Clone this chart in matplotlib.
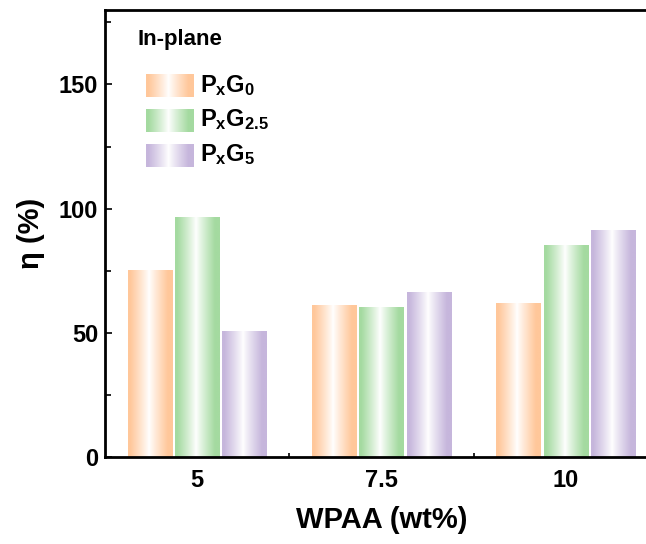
import numpy as np
import matplotlib
matplotlib.use("Agg")
import matplotlib.pyplot as plt
from matplotlib.colors import to_rgb
from matplotlib.ticker import MultipleLocator, FixedLocator

plt.rcParams['font.family'] = ['Liberation Sans', 'DejaVu Sans']
plt.rcParams['font.weight'] = 'bold'
plt.rcParams['mathtext.fontset'] = 'custom'
plt.rcParams['mathtext.bf'] = 'Liberation Sans:bold'
plt.rcParams['mathtext.rm'] = 'Liberation Sans:bold'

# data
categories = ['5', '7.5', '10']
labels = [r'$\mathbf{P_xG_0}$', r'$\mathbf{P_xG_{2.5}}$', r'$\mathbf{P_xG_5}$']
g0 = [75, 61, 62]
g25 = [96.5, 60.3, 85.3]
g5 = [50.4, 66.2, 91.4]
colors = ['#FFC79A', '#A4DAA0', '#C6B6DC']


def gradient(color, n=200):
    # coloured edges, white in the middle
    t = np.linspace(0, 1, n)
    w = np.clip(np.abs(t - 0.47) / 0.42, 0, 1) ** 0.9
    c = np.array(to_rgb(color))
    row = 1 - w[:, None] * (1 - c[None, :])
    return row[None, :, :]


fig = plt.figure(figsize=(6.46, 5.44), dpi=100)
fig.patch.set_edgecolor('none')
ax = fig.add_axes([0.1625, 0.16, 0.856, 0.8217])

x = np.arange(len(categories))
width = 0.24
step = 0.257
series = [g0, g25, g5]
for i, vals in enumerate(series):
    bars = ax.bar(x + (i - 1) * step, vals, width, color='none', edgecolor='none')
    img = gradient(colors[i])
    for b in bars:
        ax.imshow(img, extent=[b.get_x(), b.get_x() + b.get_width(), 0, b.get_height()],
                  aspect='auto', zorder=1, interpolation='bilinear')

ax.set_xticks(x)
ax.set_xticklabels(categories)
ax.xaxis.set_minor_locator(FixedLocator([0.5, 1.5]))
ax.yaxis.set_major_locator(MultipleLocator(50))
ax.yaxis.set_minor_locator(MultipleLocator(25))
ax.tick_params(axis='both', which='both', direction='in', labelsize=17, width=1.2,
               right=False, top=False)
ax.tick_params(axis='x', which='major', length=0, pad=9)
ax.tick_params(axis='x', which='minor', length=3)
ax.tick_params(axis='y', which='major', length=5, pad=5)
ax.tick_params(axis='y', which='minor', length=4)
for s in ax.spines.values():
    s.set_linewidth(2)
ax.spines['right'].set_visible(False)

ax.set_xlabel('WPAA (wt%)', fontsize=21, fontweight='bold', labelpad=10)
ax.set_ylabel('η (%)', fontsize=21, fontweight='bold', labelpad=10)

# legend drawn by hand with gradient swatches
ax.text(0.058, 0.933, 'In-plane', transform=ax.transAxes, fontsize=16, fontweight='bold',
        va='center', ha='left')
for i, lab in enumerate(labels):
    y0 = 0.805 - i * 0.078
    ax.imshow(gradient(colors[i]), extent=[0.074, 0.159, y0, y0 + 0.051],
              transform=ax.transAxes, aspect='auto', interpolation='bilinear', zorder=3)
    ax.text(0.172, y0 + 0.027, lab, transform=ax.transAxes, fontsize=17, va='center', ha='left')

ax.set_xlim(-0.5, 2.5)
ax.set_ylim(0, 180)
fig.savefig('out.png', dpi=100)
